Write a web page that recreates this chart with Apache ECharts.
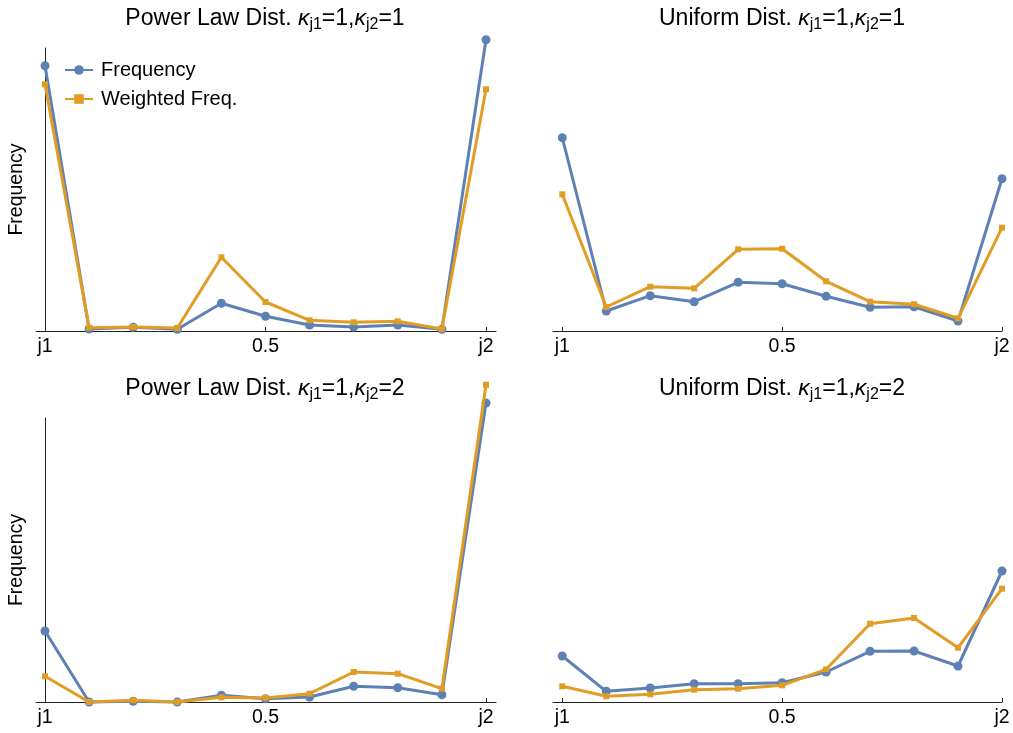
<!DOCTYPE html>
<html>
<head>
<meta charset="utf-8">
<title>Frequency by position between j1 and j2</title>
<script src="https://cdn.jsdelivr.net/npm/echarts@6/dist/echarts.min.js"></script>
<style>
  html, body { margin: 0; padding: 0; background: #fff; }
  #chart { width: 1013px; height: 733px; }
</style>
</head>
<body>
<div id="chart"></div>
<script>
// Positions along the path from j1 (0) to j2 (1)
const positions = [0, 0.1, 0.2, 0.3, 0.4, 0.5, 0.6, 0.7, 0.8, 0.9, 1];
const tickValues = [0, 0.5, 1];
const tickLabels = ['j1', '0.5', 'j2'];
const seriesNames = ['Frequency', 'Weighted Freq.'];

// Power law distribution, kappa_j1 = 1, kappa_j2 = 1
const powerK11Freq = [265.3, 2, 3.7, 1.7, 27.7, 14.7, 6, 4, 6, 1.7, 291.3];
const powerK11Weighted = [246.7, 3.3, 4, 3, 73.7, 29, 10.7, 8.7, 9.7, 2, 241.7];

// Uniform distribution, kappa_j1 = 1, kappa_j2 = 1
const uniformK11Freq = [193.3, 20, 35.3, 29.3, 48.7, 47.3, 34.7, 23.7, 24.3, 10, 152.3];
const uniformK11Weighted = [136.7, 24, 44.3, 42.7, 81.7, 82.3, 49.7, 29.3, 26.7, 12.7, 103.3];

// Power law distribution, kappa_j1 = 1, kappa_j2 = 2
const powerK12Freq = [71, 0, 0.7, 0, 6.7, 3.3, 5, 15.7, 14.3, 7.3, 299];
const powerK12Weighted = [25.7, 0, 1.7, 0, 4.7, 4, 8.3, 30, 28.3, 13.3, 317.3];

// Uniform distribution, kappa_j1 = 1, kappa_j2 = 2
const uniformK12Freq = [46, 10.7, 14, 18.3, 18.3, 19.3, 30, 50.7, 51, 36, 131];
const uniformK12Weighted = [15.7, 5.7, 7.7, 12.3, 13.3, 16.7, 32.7, 78.3, 84, 54.3, 113.3];

const panelTitles = [
  { dist: 'Power Law Dist.', k1: '1', k2: '1' },
  { dist: 'Uniform Dist.', k1: '1', k2: '1' },
  { dist: 'Power Law Dist.', k1: '1', k2: '2' },
  { dist: 'Uniform Dist.', k1: '1', k2: '2' }
];

const panelData = [
  [powerK11Freq, powerK11Weighted],
  [uniformK11Freq, uniformK11Weighted],
  [powerK12Freq, powerK12Weighted],
  [uniformK12Freq, uniformK12Weighted]
];

const FONT = '"Liberation Sans", Arial, Helvetica, sans-serif';
const BLUE = '#5E81B5';
const ORANGE = '#E19C24';
const AXIS = '#222';

// Layout of the 2x2 panels; the vertical axis line spans the grid height,
// marks near the top are allowed to rise above it (clip: false)
const grids = [
  { left: 36, right: 517, top: 48, bottom: 402 },
  { left: 553, right: 11, top: 48, bottom: 402 },
  { left: 36, right: 517, top: 418, bottom: 31 },
  { left: 553, right: 11, top: 418, bottom: 31 }
];
const xRanges = [
  [-0.0204, 1.0227],
  [-0.0211, 1.0],
  [-0.0204, 1.0227],
  [-0.0211, 1.0]
];
const yMax = [283, 283, 284, 284];
const hasYAxis = [true, false, true, false];
const titleCenters = [[265, 19], [782, 19], [265, 389], [782, 389]];

const xAxes = grids.map((g, i) => ({
  type: 'value',
  gridIndex: i,
  min: xRanges[i][0],
  max: xRanges[i][1],
  splitLine: { show: false },
  axisLine: { show: true, onZero: false, lineStyle: { color: AXIS, width: 1 } },
  axisTick: {
    show: true, inside: true, length: 4,
    customValues: tickValues,
    lineStyle: { color: AXIS, width: 1 }
  },
  axisLabel: {
    show: true,
    customValues: tickValues,
    margin: 6,
    color: '#000',
    fontSize: 19.5,
    fontFamily: FONT,
    formatter: v => {
      const k = tickValues.findIndex(t => Math.abs(t - v) < 1e-9);
      return k >= 0 ? tickLabels[k] : '';
    }
  }
}));

const yAxes = grids.map((g, i) => ({
  type: 'value',
  gridIndex: i,
  min: 0,
  max: yMax[i],
  splitLine: { show: false },
  axisTick: { show: false },
  axisLabel: { show: false },
  axisLine: { show: hasYAxis[i], lineStyle: { color: AXIS, width: 1 } },
  name: hasYAxis[i] ? 'Frequency' : '',
  nameLocation: 'middle',
  nameGap: 9,
  nameTextStyle: { color: '#000', fontSize: 19.5, fontFamily: FONT }
}));

const series = [];
panelData.forEach((pair, i) => {
  pair.forEach((vals, s) => {
    series.push({
      name: seriesNames[s],
      type: 'line',
      xAxisIndex: i,
      yAxisIndex: i,
      data: positions.map((x, k) => [x, vals[k]]),
      clip: false,
      symbol: s === 0 ? 'circle' : 'rect',
      symbolSize: s === 0 ? 9 : 6,
      showSymbol: true,
      lineStyle: { color: s === 0 ? BLUE : ORANGE, width: 3 },
      itemStyle: { color: s === 0 ? BLUE : ORANGE },
      animation: false,
      z: 2 + s
    });
  });
});

const titleGraphics = panelTitles.map((t, i) => ({
  type: 'text',
  x: titleCenters[i][0],
  y: titleCenters[i][1],
  silent: true,
  style: {
    text: t.dist + ' {k|κ}{s|j1}=' + t.k1 + ',{k|κ}{s|j2}=' + t.k2,
    fontSize: 23,
    fontFamily: FONT,
    fill: '#000',
    align: 'center',
    verticalAlign: 'middle',
    rich: {
      k: { fontSize: 23, fontStyle: 'italic', fontFamily: FONT, fill: '#000' },
      s: { fontSize: 16, fontFamily: FONT, fill: '#000', padding: [12, 0, 0, 0] }
    }
  }
}));

const chart = echarts.init(document.getElementById('chart'), null, { renderer: 'canvas' });
chart.setOption({
  backgroundColor: '#fff',
  animation: false,
  grid: grids,
  xAxis: xAxes,
  yAxis: yAxes,
  legend: {
    data: seriesNames,
    orient: 'vertical',
    left: 59,
    top: 55,
    itemWidth: 28,
    itemHeight: 12,
    itemGap: 9,
    textStyle: { color: '#000', fontSize: 20, fontFamily: FONT, lineHeight: 20, padding: [0, 0, 0, 3] },
    selectedMode: false
  },
  graphic: titleGraphics,
  series: series
});
</script>
</body>
</html>
